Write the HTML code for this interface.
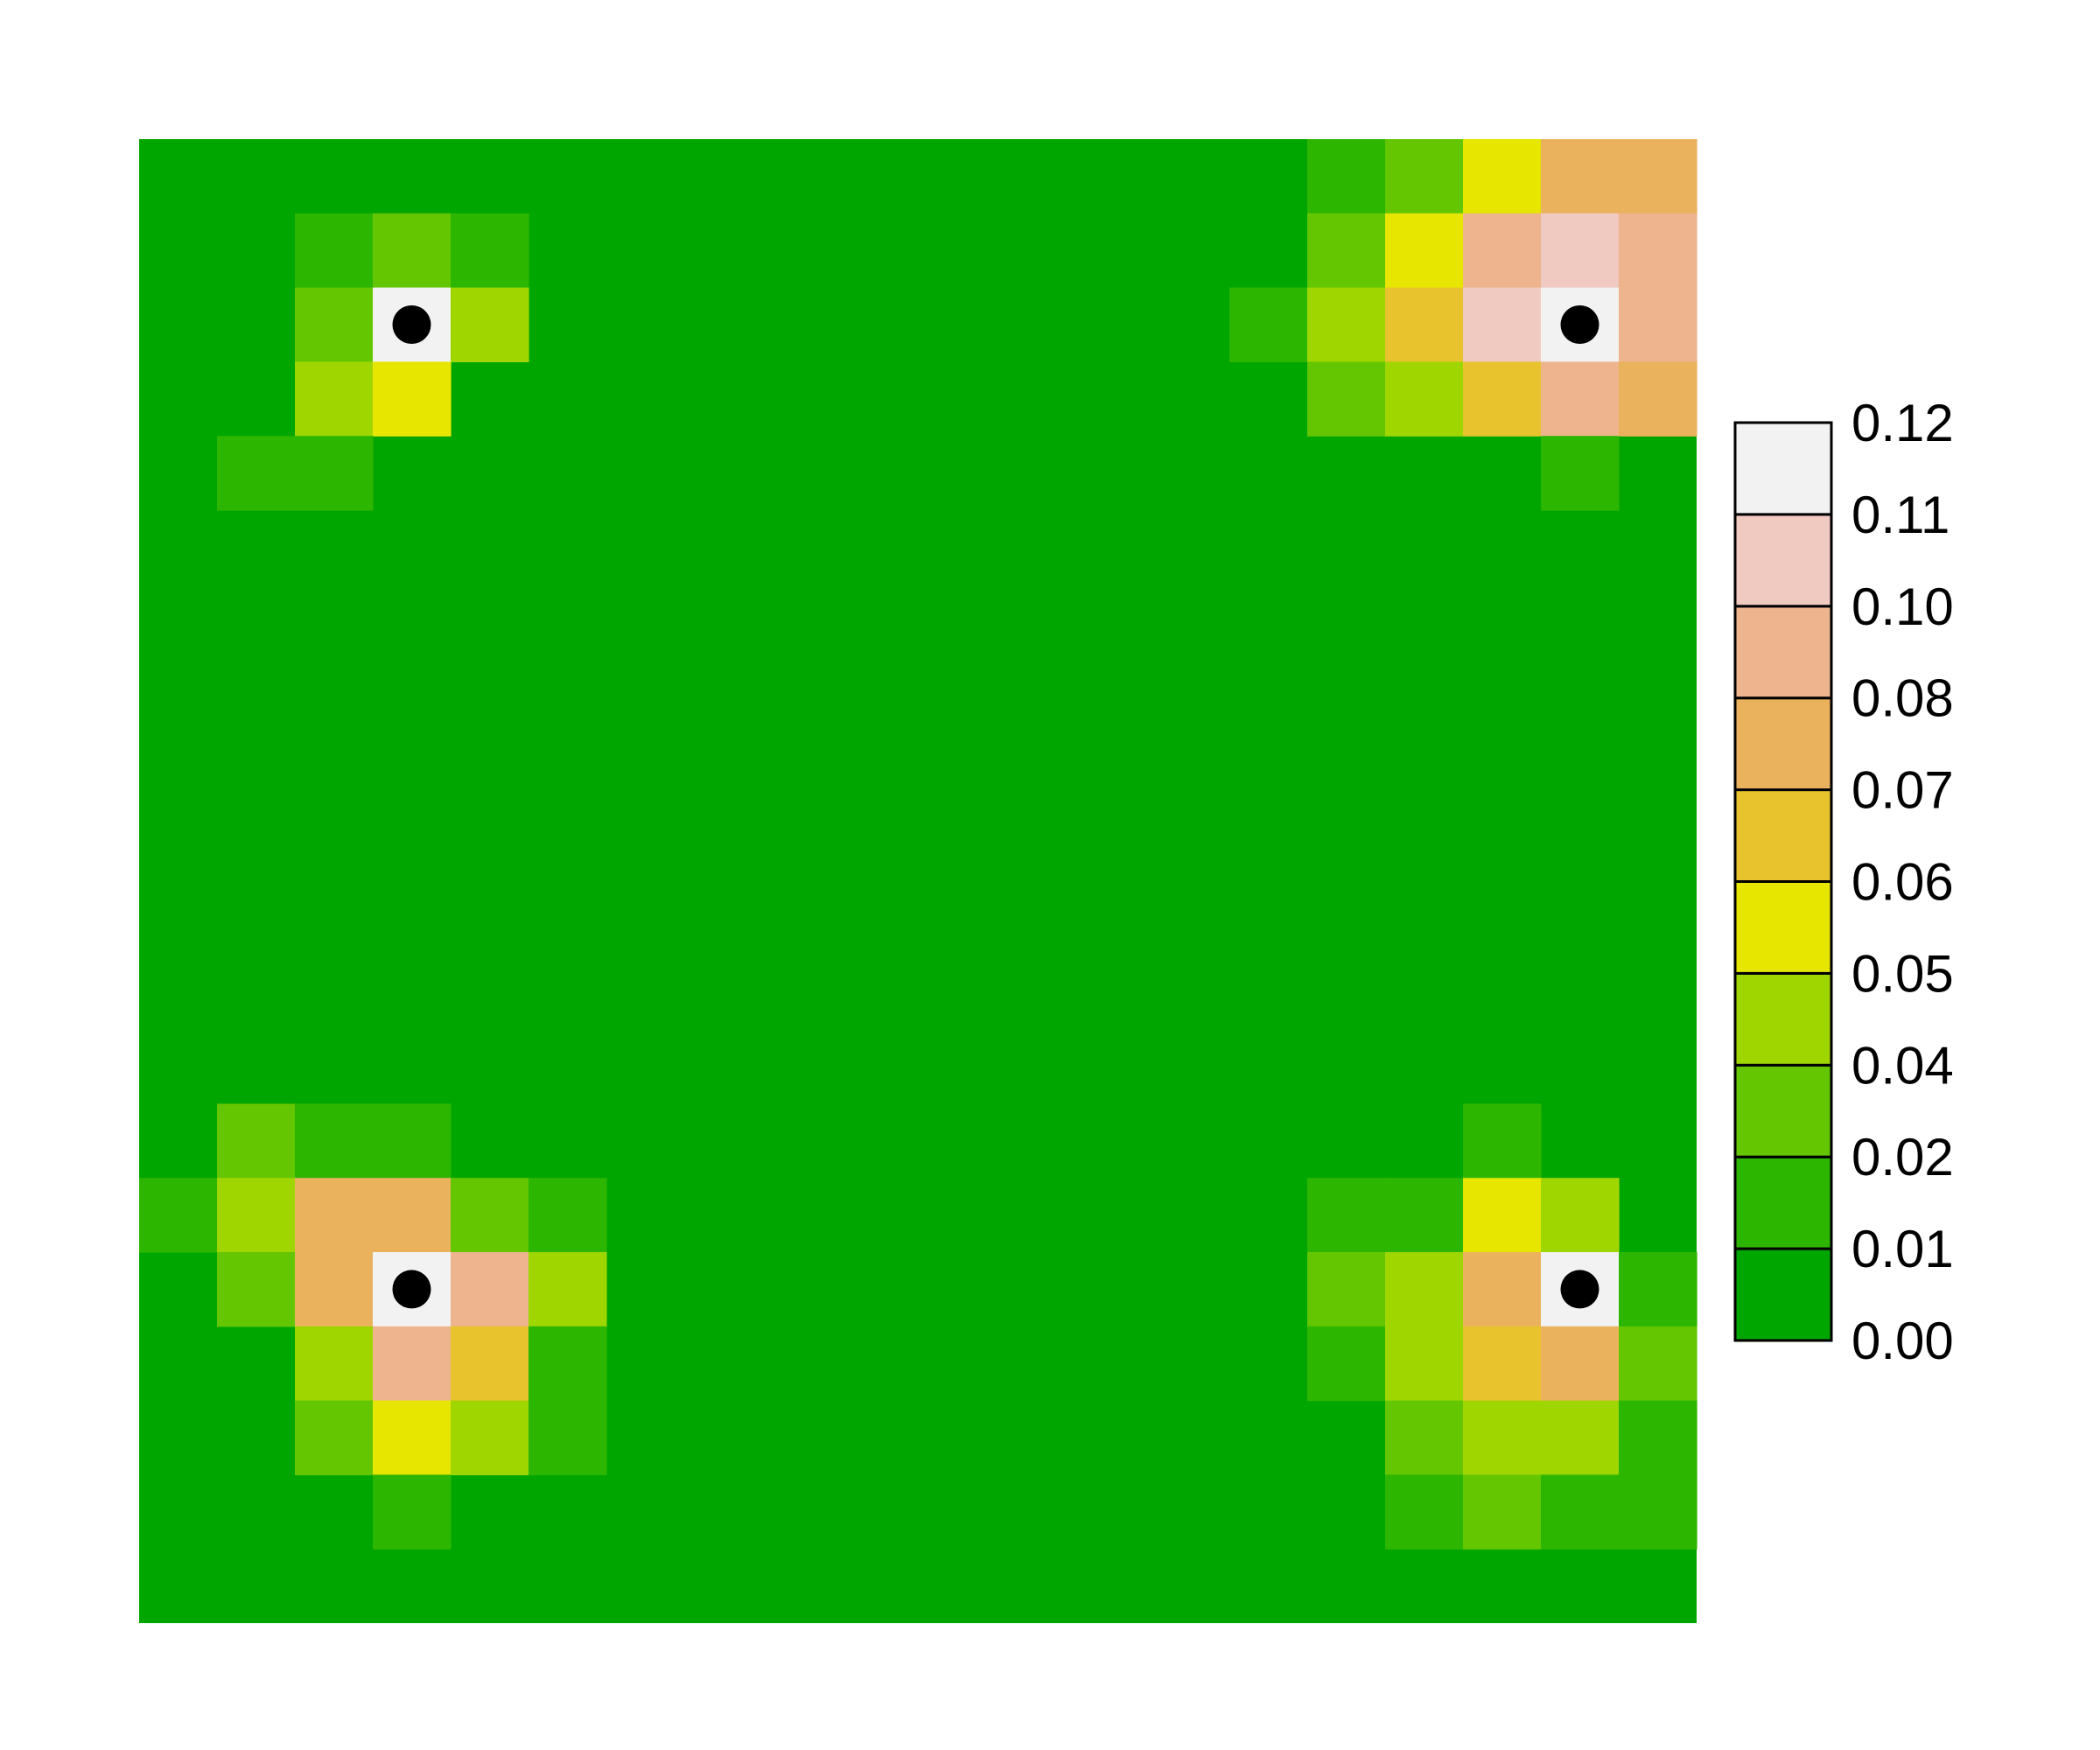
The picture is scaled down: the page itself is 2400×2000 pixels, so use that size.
<!DOCTYPE html>
<html><head><meta charset="utf-8"><style>
html,body{margin:0;padding:0;background:#fff;}
svg{display:block;}
text{font-family:"Liberation Sans",Arial,sans-serif;}
</style></head>
<body>
<svg id="chart" width="2400" height="2000" viewBox="0 0 2400 2000" xmlns="http://www.w3.org/2000/svg">
<g id="cells"></g>
<g id="dots"></g>
<g id="legend"></g>
</svg>
<script>
const palette = ["#00A600","#2DB600","#63C600","#A0D600","#E6E600","#E8C32E","#EBB25E","#EDB48E","#F0C9C0","#F2F2F2"];
const legendLabels = ["0.00","0.01","0.02","0.04","0.05","0.06","0.07","0.08","0.10","0.11","0.12"];
// non-zero cells: [col,row,level] (row 0 = top)
const cellLevels = [
[2,1,1],[3,1,2],[4,1,1],[2,2,2],[3,2,9],[4,2,3],[2,3,3],[3,3,4],[1,4,1],[2,4,1],
[15,0,1],[16,0,2],[17,0,4],[18,0,6],[19,0,6],
[15,1,2],[16,1,4],[17,1,7],[18,1,8],[19,1,7],
[14,2,1],[15,2,3],[16,2,5],[17,2,8],[18,2,9],[19,2,7],
[15,3,2],[16,3,3],[17,3,5],[18,3,7],[19,3,6],[18,4,1],
[1,13,2],[2,13,1],[3,13,1],
[0,14,1],[1,14,3],[2,14,6],[3,14,6],[4,14,2],[5,14,1],
[1,15,2],[2,15,6],[3,15,9],[4,15,7],[5,15,3],
[2,16,3],[3,16,7],[4,16,5],[5,16,1],
[2,17,2],[3,17,4],[4,17,3],[5,17,1],[3,18,1],
[17,13,1],[15,14,1],[16,14,1],[17,14,4],[18,14,3],
[15,15,2],[16,15,3],[17,15,6],[18,15,9],[19,15,1],
[15,16,1],[16,16,3],[17,16,5],[18,16,6],[19,16,2],
[16,17,2],[17,17,3],[18,17,3],[19,17,1],
[16,18,1],[17,18,2],[18,18,1],[19,18,1]
];
const points = [[3,2],[18,2],[3,15],[18,15]];
const nCols = 20, nRows = 20;
const X0=159, X1=1939, Y0=159, Y1=1855;
const cw=(X1-X0)/nCols, ch=(Y1-Y0)/nRows;
const xs = c => X0 + c*cw, ys = r => Y0 + r*ch;
const NS="http://www.w3.org/2000/svg";
const cells=document.getElementById('cells');
const grid=[];
for(let r=0;r<nRows;r++){grid.push(new Array(nCols).fill(0));}
cellLevels.forEach(([c,r,l])=>{grid[r][c]=l;});
const bg=document.createElementNS(NS,'rect');


bg.setAttribute('x',X0);bg.setAttribute('y',Y0);bg.setAttribute('width',X1-X0);bg.setAttribute('height',Y1-Y0);bg.setAttribute('fill',palette[0]);
cells.appendChild(bg);
for(let r=0;r<nRows;r++)for(let c=0;c<nCols;c++){
  if(!grid[r][c])continue;
  const e=document.createElementNS(NS,'rect');
  
  
  e.setAttribute('x',xs(c));e.setAttribute('y',ys(r));
  e.setAttribute('width',cw+0.6);e.setAttribute('height',ch+0.6);
  e.setAttribute('fill',palette[grid[r][c]]);
  cells.appendChild(e);
}
const dots=document.getElementById('dots');
points.forEach(([c,r])=>{
  const d=document.createElementNS(NS,'circle');
  
  
  d.setAttribute('cx',xs(c+0.5));d.setAttribute('cy',ys(r+0.5));d.setAttribute('r',22);d.setAttribute('fill','#000');
  dots.appendChild(d);
});
const leg=document.getElementById('legend');
const LX=1983, LW=110, LT=483, LB=1532, n=palette.length, lh=(LB-LT)/n;
palette.forEach((col,i)=>{
  const e=document.createElementNS(NS,'rect');
  
  
  e.setAttribute('x',LX);e.setAttribute('y',LB-(i+1)*lh);e.setAttribute('width',LW);e.setAttribute('height',lh);
  e.setAttribute('fill',col);e.setAttribute('stroke','#000');e.setAttribute('stroke-width',3);
  leg.appendChild(e);
});
legendLabels.forEach((t,i)=>{
  const e=document.createElementNS(NS,'text');
  
  
  e.setAttribute('x',2116);e.setAttribute('y',LB-i*lh+21);e.setAttribute('font-size',60);
  e.textContent=t;
  leg.appendChild(e);
});
</script>
</body></html>
